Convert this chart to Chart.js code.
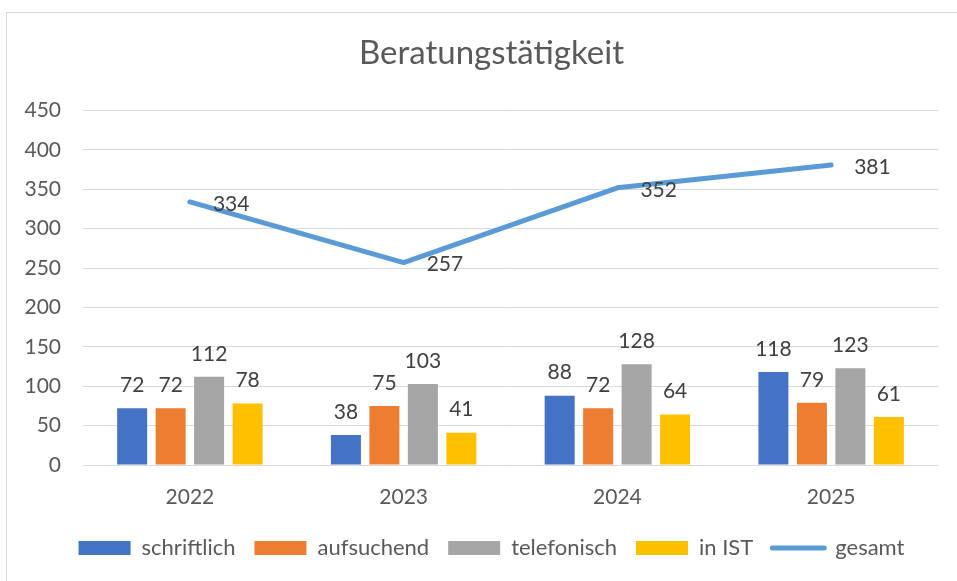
<!DOCTYPE html>
<html>
<head>
<meta charset="utf-8">
<script src="https://cdn.jsdelivr.net/npm/chart.js@4"></script>
<style>
  html, body { margin: 0; padding: 0; background: #fff; }
  #wrap { position: relative; width: 957px; height: 581px; }
  #frame { position: absolute; left: 6px; top: 12px; right: -5px; bottom: -5px; border: 1px solid #d9d9d9; }
  canvas { position: absolute; left: 0; top: 0; }
</style>
</head>
<body>
<div id="wrap">
  <div id="frame"></div>
  <canvas id="chart" width="957" height="581"></canvas>
</div>
<script>
const years = ['2022', '2023', '2024', '2025'];
const schriftlich = [72, 38, 88, 118];
const aufsuchend = [72, 75, 72, 79];
const telefonisch = [112, 103, 128, 123];
const inIst = [78, 41, 64, 61];
const gesamt = [334, 257, 352, 381];

const fontName = 'Lato, "Open Sans", sans-serif';

// values drawn next to bars and line points
const valueLabels = {
    id: 'valueLabels',
    afterDatasetsDraw(chart) {
        const ctx = chart.ctx;
        ctx.save();
        ctx.font = '21px ' + fontName;
        ctx.fillStyle = '#404040';
        ctx.textBaseline = 'middle';
        chart.data.datasets.forEach((ds, i) => {
            const meta = chart.getDatasetMeta(i);
            meta.data.forEach((el, j) => {
                const v = ds.data[j];
                if (ds.type === 'line') {
                    ctx.textAlign = 'left';
                    ctx.fillText(v, el.x + 23, el.y + 2);
                } else {
                    ctx.textAlign = 'center';
                    ctx.fillText(v, el.x, el.y - 23);
                }
            });
        });
        ctx.restore();
    }
};

// y labels stick out to the left of the narrow axis box, don't clip them
const noLabelClip = {
    id: 'noLabelClip',
    beforeDraw(chart) {
        chart.scales.y._computeLabelArea = () => undefined;
    }
};

let ctx = document.getElementById('chart').getContext('2d');
let myChart = new Chart(ctx, {
    data: {
        labels: years,
        datasets: [
            { type: 'bar', label: 'schriftlich', data: schriftlich, backgroundColor: '#4472C4' },
            { type: 'bar', label: 'aufsuchend', data: aufsuchend, backgroundColor: '#ED7D31' },
            { type: 'bar', label: 'telefonisch', data: telefonisch, backgroundColor: '#A5A5A5' },
            { type: 'bar', label: 'in IST', data: inIst, backgroundColor: '#FFC000' },
            {
                type: 'line', label: 'gesamt', data: gesamt,
                borderColor: '#5B9BD5', backgroundColor: '#5B9BD5',
                borderWidth: 5, pointRadius: 0, tension: 0,
                borderCapStyle: 'round', borderJoinStyle: 'round'
            }
        ]
    },
    options: {
        responsive: false,
        animation: false,
        categoryPercentage: 0.72,
        barPercentage: 0.78,
        layout: { padding: { left: 45, right: 19, top: 12, bottom: 12 } },
        plugins: {
            tooltip: { enabled: false },
            title: {
                display: true,
                text: 'Beratungstätigkeit',
                color: '#595959',
                font: { family: fontName, size: 33, weight: 'normal' },
                padding: { top: 22, bottom: 37 }
            },
            legend: {
                position: 'bottom',
                labels: {
                    usePointStyle: true,
                    pointStyleWidth: 52,
                    boxHeight: 14,
                    padding: 19,
                    color: '#595959',
                    font: { family: fontName, size: 22 },
                    generateLabels(chart) {
                        let items = Chart.defaults.plugins.legend.labels.generateLabels(chart);
                        items.forEach(it => {
                            const ds = chart.data.datasets[it.datasetIndex];
                            if (ds.type === 'line') {
                                it.pointStyle = 'line';
                                it.lineWidth = 5;
                                it.strokeStyle = '#5B9BD5';
                                it.lineCap = 'round';
                            } else {
                                it.pointStyle = 'rect';
                                it.lineWidth = 0;
                            }
                        });
                        return items;
                    }
                }
            }
        },
        scales: {
            x: {
                grid: { display: false },
                border: { display: false },
                ticks: { color: '#595959', padding: 12, font: { family: fontName, size: 21 } },
                afterFit: s => { s.height = 53; }
            },
            y: {
                min: 0,
                max: 450,
                grid: { color: '#d9d9d9', lineWidth: 1, drawTicks: false },
                border: { display: false },
                ticks: { stepSize: 50, color: '#595959', padding: 22, font: { family: fontName, size: 21 } },
                afterFit: s => { s.width = 38; }
            }
        }
    },
    plugins: [valueLabels, noLabelClip]
});
</script>
</body>
</html>
